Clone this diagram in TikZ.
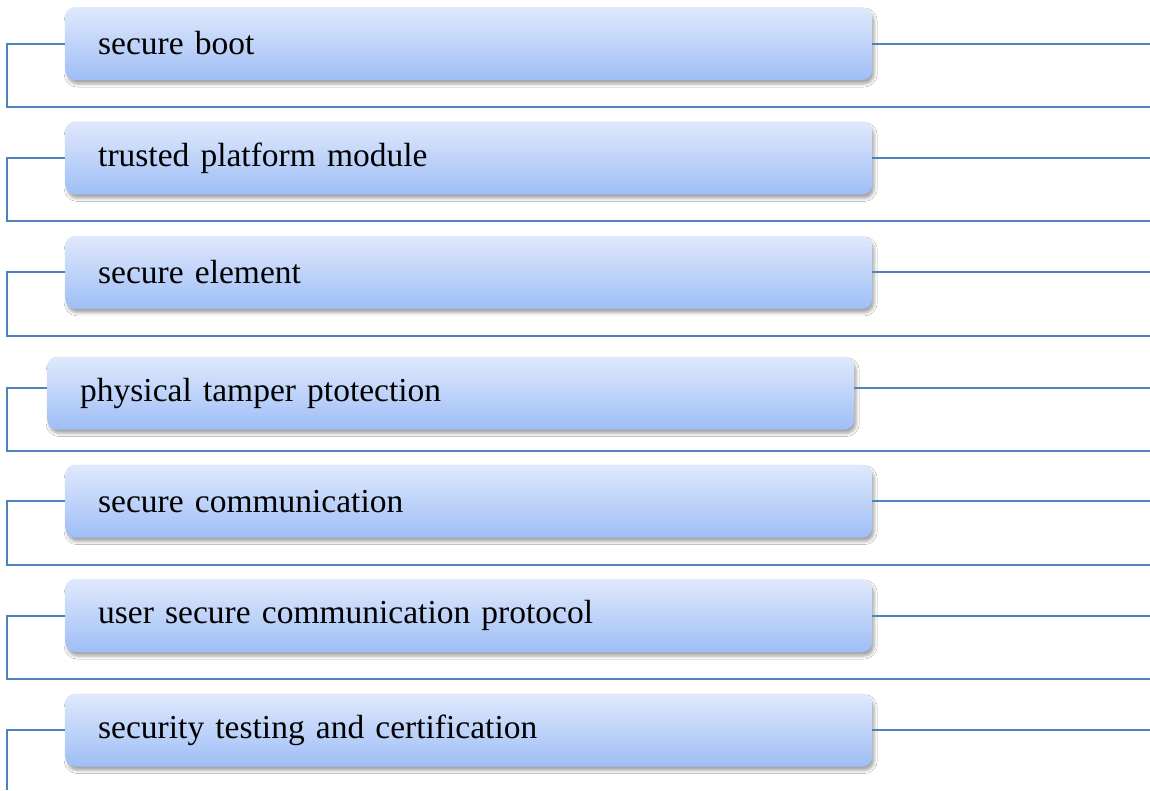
\documentclass[tikz,border=0pt]{standalone}
\usepackage{fontspec}
\setmainfont{Liberation Serif}
\usetikzlibrary{shadows.blur}
\definecolor{linec}{RGB}{79,129,189}
\definecolor{boxtop}{RGB}{224,233,252}
\definecolor{boxbot}{RGB}{158,190,246}
\tikzset{
  itembox/.style={rectangle, rounded corners=10pt, minimum width=807pt, minimum height=73pt,
    text width=741pt, align=left, inner xsep=33pt, inner ysep=0pt, anchor=west,
    top color=boxtop, bottom color=boxbot, draw=none,
    blur shadow={shadow xshift=2pt, shadow yshift=-4pt, shadow blur radius=3pt, shadow opacity=35},
    font=\fontsize{33.5}{38}\selectfont},
  conn/.style={draw=linec, line width=2pt}
}
\begin{document}
\begin{tikzpicture}[x=1pt,y=-1pt]
\useasboundingbox (0,0) rectangle (1150,790);
\fill[white] (0,0) rectangle (1150,790);
\node[itembox] (b1) at (65,43.5) {secure boot};
\node[itembox] (b2) at (65,157.9) {trusted platform module};
\node[itembox] (b3) at (65,272.3) {secure element};
\node[itembox] (b4) at (47,393) {physical tamper ptotection};
\node[itembox] (b5) at (65,501.1) {secure communication};
\node[itembox] (b6) at (65,615.5) {user secure communication protocol};
\node[itembox] (b7) at (65,730) {security testing and certification};
% coordinates
\foreach \i/\y/\ly in {1/43.5/107, 2/157.9/221.4, 3/272.3/335.8, 4/388/451, 5/501.1/564.6, 6/615.5/679} {
  \coordinate (lt\i) at (7,\y);
  \coordinate (lb\i) at (7,\ly);
  \coordinate (rb\i) at (1150,\ly);
  \coordinate (rt\i) at (1150,\y);
}
\coordinate (lt7) at (7,730);
\coordinate (lb7) at (7,790);
\coordinate (rt7) at (1150,730);
\foreach \i in {1,2,3,5,6} {
  \draw[conn] (b\i.west) -- (lt\i) -- (lb\i) -- (rb\i);
  \draw[conn] (b\i.east) -- (rt\i);
}
\draw[conn] (b4.west |- lt4) -- (lt4) -- (lb4) -- (rb4);
\draw[conn] (b4.east |- rt4) -- (rt4);
\draw[conn] (b7.west) -- (lt7) -- (lb7);
\draw[conn] (b7.east) -- (rt7);
\end{tikzpicture}
\end{document}
